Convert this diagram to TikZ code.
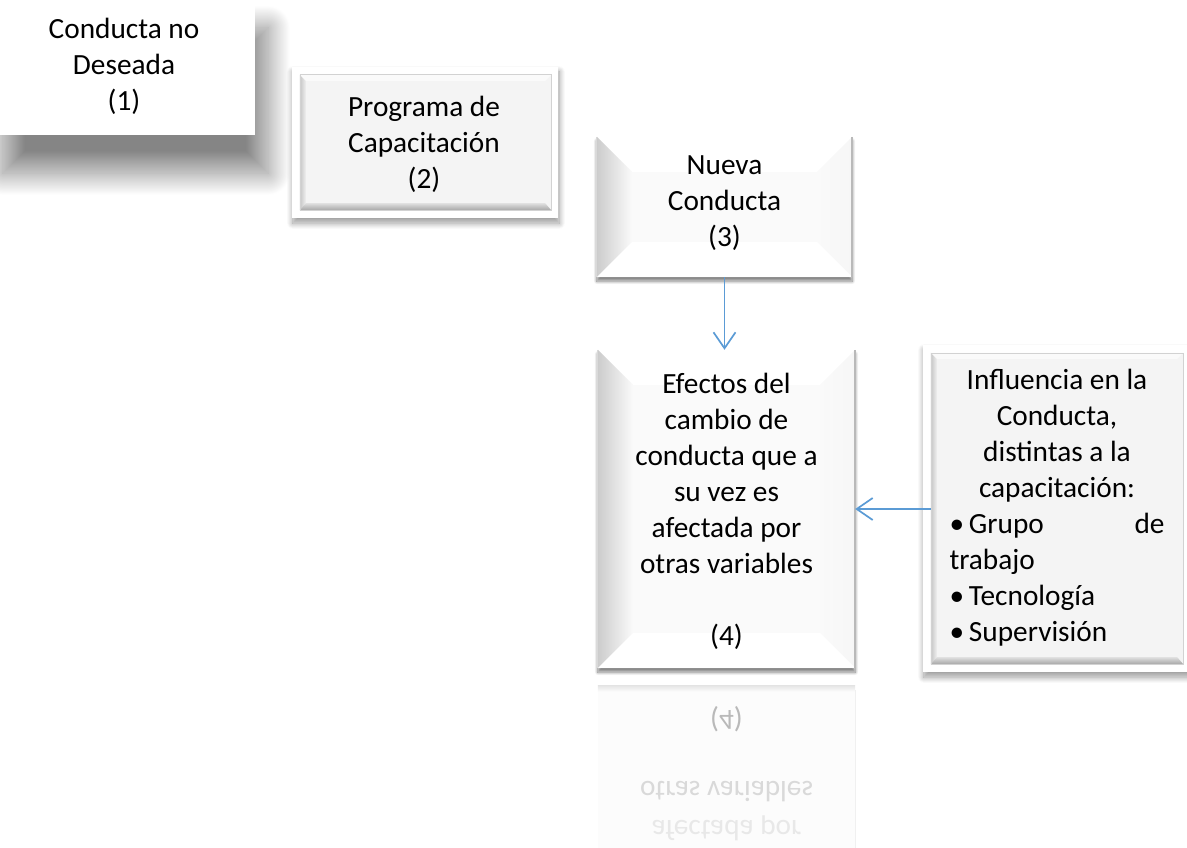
\documentclass[tikz,border=0pt]{standalone}
\usepackage{fontspec}
\setmainfont{Carlito}
\usepackage{graphicx}
\usetikzlibrary{arrows.meta,shadows.blur,calc}
\pgfdeclarelayer{background}
\pgfsetlayers{background,main}
\definecolor{arrowblue}{HTML}{5B9BD5}
\tikzset{
  txt/.style={font={\fontsize{29.3}{36}\selectfont\parindent0pt}, align=center, inner sep=0pt, text=black},
  boxnode/.style={txt, rectangle},
  flow/.style={draw=arrowblue, line width=1.7pt, -{Straight Barb[length=16pt,width=22pt,line width=1.7pt]}},
  refl/.style={txt},
}
\newcommand\mybevel[1]{%
  \begin{pgfonlayer}{background}
    \fill[white, blur shadow={shadow xshift=0pt, shadow yshift=-4pt, shadow blur radius=3pt, shadow opacity=50, shadow blur steps=20}]
      (#1.north west) rectangle (#1.south east);
    \fill[gray!4] (#1.north west) rectangle (#1.south east);
    \fill[white] (#1.north west) -- ($(#1.north west)+(35,35)$) -- ($(#1.north east)+(-35,35)$) -- (#1.north east) -- cycle;
    \shade[left color=gray!40, right color=gray!4]
      (#1.north west) -- ($(#1.north west)+(35,35)$) -- ($(#1.south west)+(35,-35)$) -- (#1.south west) -- cycle;
    \shade[left color=gray!4, right color=gray!7]
      (#1.north east) -- ($(#1.north east)+(-35,35)$) -- ($(#1.south east)+(-35,-35)$) -- (#1.south east) -- cycle;
    \fill[white] (#1.south west) -- ($(#1.south west)+(35,-35)$) -- ($(#1.south east)+(-35,-35)$) -- (#1.south east) -- cycle;
    \draw[gray!55, line width=1.6pt] (#1.north east) -- (#1.south east);
    \draw[gray!30, line width=0.8pt] (#1.north west) -- (#1.south west);
  \end{pgfonlayer}}
\newcommand\myframe[1]{%
  \begin{pgfonlayer}{background}
    \fill[white, blur shadow={shadow xshift=1pt, shadow yshift=-5pt, shadow blur radius=6pt, shadow opacity=40, shadow blur steps=20}]
      ($(#1.north west)+(-8,-8)$) rectangle ($(#1.south east)+(7,8)$);
    \fill[gray!9] (#1.north west) rectangle (#1.south east);
    \shade[left color=gray!45, right color=gray!12]
      (#1.north west) -- ($(#1.north west)+(6,6)$) -- ($(#1.south west)+(6,-7)$) -- (#1.south west) -- cycle;
    \fill[gray!4] (#1.north west) -- ($(#1.north west)+(6,6)$) -- ($(#1.north east)+(-6,6)$) -- (#1.north east) -- cycle;
    \shade[top color=gray!25, bottom color=gray!70]
      ($(#1.south west)+(6,-7)$) -- ($(#1.south east)+(-6,-7)$) -- (#1.south east) -- (#1.south west) -- cycle;
    \draw[gray!35, line width=0.6pt] (#1.north west) rectangle (#1.south east);
  \end{pgfonlayer}}
\begin{document}
\begin{tikzpicture}[x=1pt,y=-1pt]
\useasboundingbox (0,0) rectangle (1187,848);

% Box 1
\node[boxnode, minimum width=265pt, minimum height=145pt] (n1) at (122.5,62.5) {};
\node[txt] (t1) at (124,66.5) {Conducta no\\Deseada\\(1)};
\begin{pgfonlayer}{background}
  \fill[white, blur shadow={shadow xshift=13pt, shadow yshift=-38pt, shadow blur radius=22pt, shadow opacity=48, shadow blur steps=60}]
    (n1.north west) rectangle (n1.south east);
\end{pgfonlayer}

% Box 2
\node[boxnode, minimum width=251pt, minimum height=135pt] (n2) at (425.5,142.5) {};
\node[txt] (t2) at (424,144) {Programa de\\Capacitación\\(2)};
\myframe{n2}

% Box 3
\node[boxnode, minimum width=255pt, minimum height=140pt] (n3) at (724.5,207) {};
\node[txt] (t3) at (724.5,203) {Nueva\\Conducta\\(3)};
\mybevel{n3}

% Box 4
\node[boxnode, minimum width=257pt, minimum height=318pt] (n4) at (726.5,509) {};
\node[txt] (t4) at (726.5,511)
  {Efectos del\\cambio de\\conducta que a\\su vez es\\afectada por\\otras variables\\[36pt](4)};
\mybevel{n4}

% Box 5
\node[boxnode, minimum width=252pt, minimum height=311pt] (n5) at (1057,508.5) {};
\node[txt] (t5) at (1057,508)
  {Influencia en la\\Conducta,\\distintas a la\\capacitación:\\
   \makebox[215pt]{•\,Grupo\hfill de}\\
   \makebox[215pt][l]{trabajo}\\
   \makebox[215pt][l]{•\,Tecnología}\\
   \makebox[215pt][l]{•\,Supervisión}};
\myframe{n5}

% Reflection of box 4
\begin{pgfonlayer}{background}
  \fill[gray!2] (n4.south west |- 0,685) rectangle (n4.south east |- 0,848);
  \shade[top color=gray!22, bottom color=gray!4] (n4.south west |- 0,685) rectangle (n4.south east |- 0,691);
  \draw[gray!12, line width=1pt] (n4.south east |- 0,690) -- (n4.south east |- 0,848);
\end{pgfonlayer}
\node[refl, text=gray!55] (r4) at (726.5,719) {\scalebox{1}[-1]{(4)}};
\node[refl, text=gray!30] (rov) at (726.5,792) {\scalebox{1}[-1]{otras variables}};
\node[refl, text=gray!18] (rap) at (726.5,828) {\scalebox{1}[-1]{afectada por}};

% Connectors
\draw[flow] (n3.south) -- (n3.south |- n4.north);
\draw[flow] (n5.west |- n4.east) -- (n4.east);
\end{tikzpicture}
\end{document}
